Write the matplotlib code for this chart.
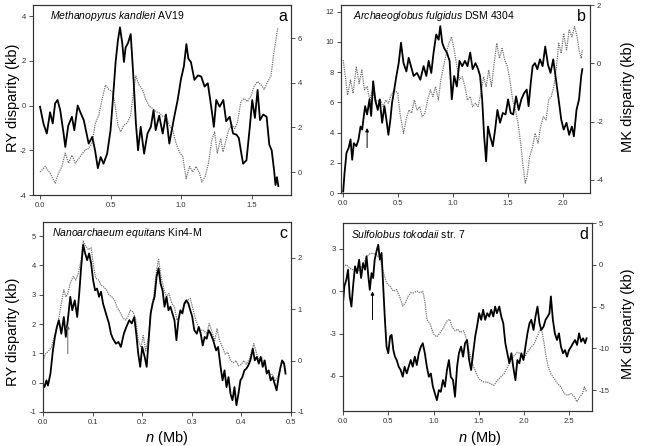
import matplotlib
matplotlib.use("Agg")
import matplotlib.pyplot as plt
from matplotlib.ticker import FormatStrFormatter

plt.rcParams["font.family"] = ["Liberation Sans", "DejaVu Sans"]
plt.rcParams["mathtext.fontset"] = "custom"
plt.rcParams["mathtext.rm"] = "Liberation Sans"
plt.rcParams["mathtext.it"] = "Liberation Sans:italic"
plt.rcParams["axes.unicode_minus"] = False

# panel a: Methanopyrus kandleri
a_ry_x = [0.0, 0.024, 0.048, 0.071, 0.09, 0.107, 0.124, 0.143, 0.167, 0.179,
          0.2, 0.226, 0.243, 0.267, 0.286, 0.31, 0.33, 0.345, 0.37, 0.39,
          0.41, 0.43, 0.45, 0.476, 0.5, 0.52, 0.536, 0.552, 0.567, 0.583,
          0.595, 0.607, 0.624, 0.643, 0.662, 0.68, 0.695, 0.714, 0.738, 0.762,
          0.786, 0.805, 0.82, 0.845, 0.87, 0.893, 0.917, 0.933, 0.952, 0.976,
          1.0, 1.02, 1.038, 1.052, 1.07, 1.095, 1.12, 1.143, 1.167, 1.19,
          1.214, 1.233, 1.25, 1.274, 1.3, 1.32, 1.345, 1.369, 1.393, 1.41,
          1.424, 1.44, 1.464, 1.488, 1.505, 1.524, 1.543, 1.56, 1.583, 1.607,
          1.626, 1.643, 1.66, 1.67, 1.68, 1.69]
a_ry = [-0.05, -0.8, -1.25, -0.3, -0.8, 0.1, 0.25, -0.2, -1.25, -1.85,
        -0.9, -0.5, -1.1, 0.0, -0.3, -0.65, -1.25, -1.7, -1.4, -2.0,
        -2.8, -2.3, -2.6, -2.15, -1.1, 0.55, 1.95, 2.9, 3.5, 2.8,
        1.95, 2.6, 2.8, 3.2, 1.3, -0.8, -2.0, -0.95, -2.15, -1.25,
        -0.95, -0.2, -1.1, -0.45, -1.25, -0.4, -1.7, -1.15, -0.5, 0.25,
        1.2, 1.75, 2.75, 2.1, 1.95, 1.15, 1.35, 1.3, 0.85, 1.0,
        -0.05, -0.95, 0.25, -0.05, 0.25, -0.7, -0.5, -1.25, -1.3, -1.45,
        -2.0, -2.6, -2.45, -0.95, 0.25, -0.55, 0.7, -0.65, -0.4, -0.5,
        -1.75, -2.0, -2.9, -3.55, -3.2, -3.6]
a_mk_x = [0.0, 0.036, 0.071, 0.107, 0.131, 0.155, 0.179, 0.202, 0.226, 0.25,
          0.286, 0.321, 0.345, 0.369, 0.393, 0.417, 0.44, 0.464, 0.488, 0.512,
          0.529, 0.552, 0.571, 0.595, 0.619, 0.643, 0.662, 0.679, 0.702, 0.726,
          0.75, 0.774, 0.798, 0.821, 0.845, 0.869, 0.893, 0.917, 0.94, 0.964,
          0.988, 1.012, 1.036, 1.06, 1.083, 1.107, 1.131, 1.148, 1.171, 1.195,
          1.219, 1.238, 1.257, 1.281, 1.298, 1.314, 1.338, 1.362, 1.381, 1.4,
          1.424, 1.448, 1.471, 1.495, 1.519, 1.543, 1.567, 1.59, 1.614, 1.638,
          1.655, 1.671, 1.686]
a_mk = [0.0, 0.25, -0.05, -0.5, -0.05, 0.25, 0.85, 0.4, 0.75, 0.4,
        0.7, 1.0, 1.05, 1.3, 2.2, 2.55, 3.25, 3.9, 3.7, 3.6,
        3.15, 2.1, 1.8, 2.1, 2.2, 2.55, 3.55, 4.3, 3.9, 3.7,
        3.25, 2.95, 2.85, 2.7, 2.65, 2.5, 2.5, 2.1, 1.9, 1.3,
        0.9, 0.7, -0.3, 0.25, 0.0, 0.25, -0.05, -0.45, -0.2, 0.4,
        1.45, 1.8, 0.85, 1.5, 0.9, 1.3, 1.9, 2.1, 1.95, 2.2,
        3.15, 3.3, 3.15, 3.4, 3.85, 4.05, 3.9, 3.7, 4.05, 4.3,
        5.2, 5.85, 6.45]

# panel b: Archaeoglobus fulgidus
b_ry_x = [0.0, 0.012, 0.03, 0.05, 0.067, 0.082, 0.097, 0.12, 0.14, 0.158,
          0.173, 0.188, 0.2, 0.218, 0.24, 0.255, 0.273, 0.294, 0.315, 0.333,
          0.355, 0.376, 0.394, 0.412, 0.43, 0.445, 0.46, 0.485, 0.506, 0.527,
          0.55, 0.576, 0.597, 0.618, 0.642, 0.673, 0.703, 0.733, 0.758, 0.779,
          0.803, 0.824, 0.848, 0.87, 0.885, 0.903, 0.92, 0.945, 0.97, 0.99,
          1.012, 1.036, 1.06, 1.085, 1.11, 1.133, 1.158, 1.18, 1.206, 1.23,
          1.248, 1.267, 1.285, 1.303, 1.32, 1.34, 1.364, 1.385, 1.406, 1.43,
          1.455, 1.48, 1.503, 1.527, 1.55, 1.576, 1.6, 1.624, 1.648, 1.673,
          1.69, 1.71, 1.727, 1.748, 1.77, 1.794, 1.818, 1.842, 1.867, 1.89,
          1.915, 1.94, 1.964, 1.988, 2.01, 2.036, 2.06, 2.085, 2.103, 2.127,
          2.15, 2.17, 2.18]
b_ry = [0.1, 1.3, 2.65, 3.0, 3.55, 2.2, 3.3, 3.1, 3.55, 4.4,
        4.2, 5.1, 5.75, 5.2, 6.2, 5.1, 7.4, 6.1, 5.5, 6.2,
        4.65, 5.75, 4.85, 3.85, 4.85, 5.95, 6.6, 7.75, 8.6, 9.95,
        8.6, 8.05, 8.95, 8.4, 7.75, 7.95, 7.5, 8.4, 7.75, 8.75,
        7.95, 9.3, 10.5, 10.15, 11.05, 9.95, 9.6, 9.3, 8.75, 6.2,
        7.75, 7.05, 8.75, 8.4, 8.75, 8.4, 9.3, 8.2, 8.6, 8.2,
        7.75, 6.2, 3.75, 2.1, 4.4, 3.75, 3.1, 4.2, 5.5, 4.65,
        5.3, 5.2, 6.2, 5.3, 5.2, 6.4, 5.5, 6.2, 6.6, 6.85,
        5.75, 7.3, 8.4, 8.6, 8.2, 8.85, 8.4, 9.7, 8.5, 7.95,
        8.85, 7.5, 6.2, 4.85, 4.2, 4.65, 3.85, 4.4, 3.75, 5.5,
        6.2, 7.75, 8.2]
b_mk_x = [0.0, 0.02, 0.04, 0.067, 0.09, 0.12, 0.145, 0.17, 0.194, 0.218,
          0.242, 0.267, 0.29, 0.315, 0.34, 0.364, 0.388, 0.412, 0.436, 0.467,
          0.497, 0.52, 0.55, 0.576, 0.6, 0.624, 0.648, 0.673, 0.697, 0.72,
          0.745, 0.77, 0.794, 0.818, 0.842, 0.867, 0.89, 0.915, 0.94, 0.964,
          0.988, 1.012, 1.036, 1.06, 1.085, 1.11, 1.133, 1.158, 1.18, 1.206,
          1.23, 1.255, 1.28, 1.303, 1.327, 1.352, 1.376, 1.4, 1.424, 1.448,
          1.473, 1.497, 1.52, 1.545, 1.57, 1.594, 1.618, 1.64, 1.66, 1.676,
          1.7, 1.727, 1.75, 1.776, 1.8, 1.824, 1.85, 1.873, 1.897, 1.92,
          1.945, 1.964, 1.988, 2.01, 2.036, 2.06, 2.085, 2.109, 2.133, 2.15,
          2.17, 2.18]
b_mk = [0.11, -0.46, -1.09, -0.57, -1.03, -0.11, -0.69, -0.23, -0.91, -0.8,
        -1.26, -0.91, -1.26, -1.31, -1.26, -1.49, -1.26, -1.37, -1.09, -0.91,
        -1.03, -1.77, -2.4, -1.89, -1.6, -1.71, -1.26, -1.6, -1.49, -1.83,
        -1.71, -1.26, -0.91, -1.14, -0.8, -1.26, -0.57, -0.11, 0.34, 0.69,
        0.91, 0.46, -0.11, -0.57, -0.46, -0.8, -1.26, -1.14, -1.49, -1.37,
        -1.49, -1.03, -0.46, -0.8, -0.23, -0.8, 0.0, 0.69, 0.17, 0.51,
        0.11, -0.11, -0.57, -1.26, -1.6, -2.06, -2.74, -3.54, -4.11, -3.89,
        -3.2, -2.86, -2.4, -2.74, -2.17, -1.83, -1.94, -1.26, -1.14, -0.8,
        -0.11, 0.69, 0.34, 1.03, 0.46, 1.14, 0.91, 1.26, 0.91, 0.46,
        0.17, 0.46]

# panel c: Nanoarchaeum equitans
c_ry_x = [0.0, 0.003, 0.007, 0.01, 0.015, 0.02, 0.024, 0.028, 0.032, 0.037,
          0.042, 0.046, 0.05, 0.055, 0.059, 0.064, 0.069, 0.073, 0.077, 0.081,
          0.085, 0.089, 0.093, 0.097, 0.101, 0.105, 0.109, 0.113, 0.117, 0.121,
          0.125, 0.129, 0.133, 0.137, 0.141, 0.147, 0.152, 0.157, 0.163, 0.168,
          0.174, 0.179, 0.184, 0.188, 0.192, 0.196, 0.2, 0.205, 0.209, 0.213,
          0.217, 0.221, 0.225, 0.229, 0.233, 0.237, 0.241, 0.245, 0.249, 0.253,
          0.257, 0.261, 0.265, 0.269, 0.273, 0.277, 0.281, 0.285, 0.289, 0.293,
          0.297, 0.301, 0.305, 0.31, 0.314, 0.318, 0.322, 0.326, 0.33, 0.334,
          0.338, 0.343, 0.349, 0.353, 0.358, 0.362, 0.366, 0.37, 0.374, 0.378,
          0.382, 0.386, 0.39, 0.394, 0.398, 0.402, 0.406, 0.41, 0.414, 0.418,
          0.423, 0.427, 0.431, 0.435, 0.439, 0.443, 0.447, 0.451, 0.455, 0.459,
          0.463, 0.467, 0.471, 0.475, 0.479, 0.482, 0.486, 0.489]
c_ry = [-0.03, -0.15, 0.08, -0.1, 0.31, 1.1, 1.56, 1.9, 2.13, 1.67,
        2.24, 1.56, 2.13, 2.93, 2.47, 2.81, 2.24, 3.04, 3.95, 4.7,
        4.41, 4.18, 4.41, 4.07, 3.5, 3.15, 3.21, 2.93, 3.1, 2.7,
        2.47, 2.24, 2.02, 1.67, 1.5, 1.33, 1.39, 1.22, 1.67, 1.9,
        2.13, 2.02, 2.24, 1.67, 0.99, 0.54, 1.22, 0.88, 0.54, 1.45,
        2.36, 2.7, 2.93, 3.61, 3.9, 3.38, 3.15, 2.59, 2.93, 2.47,
        2.59, 2.36, 2.13, 1.45, 2.13, 2.47, 2.36, 2.7, 2.81, 2.7,
        2.47, 2.24, 1.79, 1.67, 1.9, 1.67, 1.27, 1.56, 1.5, 1.79,
        1.67, 1.45, 1.1, 1.22, 0.54, 0.08, 0.42, -0.15, 0.19, -0.38,
        -0.6, -0.15, -0.77, -0.38, 0.08, 0.19, 0.42, 0.48, 0.59, 0.76,
        1.16, 0.76, 0.88, 0.65, 0.88, 0.54, 0.76, 0.31, 0.42, 0.08,
        0.19, -0.03, -0.26, 0.19, 0.54, 0.76, 0.65, 0.31]
c_mk_x = [0.0, 0.005, 0.011, 0.017, 0.024, 0.03, 0.037, 0.042, 0.046, 0.05,
          0.055, 0.061, 0.066, 0.071, 0.077, 0.081, 0.086, 0.092, 0.097, 0.101,
          0.106, 0.112, 0.117, 0.122, 0.128, 0.133, 0.139, 0.144, 0.149, 0.155,
          0.16, 0.166, 0.171, 0.176, 0.182, 0.187, 0.192, 0.198, 0.202, 0.207,
          0.213, 0.218, 0.223, 0.229, 0.233, 0.238, 0.244, 0.249, 0.254, 0.26,
          0.265, 0.27, 0.276, 0.281, 0.287, 0.292, 0.297, 0.303, 0.308, 0.314,
          0.319, 0.324, 0.33, 0.335, 0.34, 0.346, 0.351, 0.356, 0.362, 0.367,
          0.373, 0.378, 0.384, 0.389, 0.394, 0.4, 0.405, 0.41, 0.416, 0.421,
          0.425, 0.431, 0.436, 0.441, 0.447, 0.452, 0.458, 0.463, 0.468, 0.474,
          0.479, 0.485, 0.489]
c_mk = [0.0, 0.13, 0.19, 0.26, 0.52, 0.72, 1.11, 1.38, 1.24, 1.31,
        1.51, 1.64, 1.57, 1.7, 1.97, 2.33, 2.23, 2.16, 2.2, 1.9,
        1.61, 1.57, 1.47, 1.44, 1.38, 1.28, 1.24, 1.18, 1.05, 0.95,
        0.85, 0.79, 0.85, 0.98, 0.95, 0.79, 0.39, 0.26, 0.49, 0.19,
        0.46, 0.98, 1.24, 1.77, 1.97, 1.64, 1.38, 1.24, 1.31, 1.11,
        1.05, 0.79, 0.92, 0.98, 1.11, 1.18, 1.21, 0.98, 0.79, 0.65,
        0.59, 0.59, 0.52, 0.72, 0.59, 0.39, 0.62, 0.39, 0.26, 0.13,
        0.16, 0.0, -0.04, 0.0, -0.1, -0.07, 0.0, -0.07, 0.03, 0.19,
        0.33, 0.13, 0.0, 0.06, -0.07, -0.2, -0.27, -0.27, -0.4, -0.3,
        -0.13, 0.0, -0.2]

# panel d: Sulfolobus tokodaii
d_ry_x = [0.0, 0.015, 0.037, 0.056, 0.074, 0.093, 0.111, 0.133, 0.156, 0.178,
          0.2, 0.222, 0.244, 0.26, 0.28, 0.296, 0.315, 0.333, 0.35, 0.37,
          0.389, 0.407, 0.426, 0.444, 0.463, 0.481, 0.5, 0.52, 0.537, 0.556,
          0.574, 0.593, 0.615, 0.637, 0.66, 0.68, 0.704, 0.726, 0.748, 0.77,
          0.793, 0.815, 0.837, 0.86, 0.881, 0.904, 0.926, 0.948, 0.97, 0.993,
          1.015, 1.037, 1.059, 1.08, 1.104, 1.126, 1.148, 1.17, 1.19, 1.215,
          1.237, 1.26, 1.28, 1.304, 1.326, 1.348, 1.37, 1.393, 1.415, 1.437,
          1.46, 1.48, 1.504, 1.526, 1.548, 1.57, 1.593, 1.615, 1.637, 1.66,
          1.68, 1.7, 1.726, 1.748, 1.77, 1.793, 1.815, 1.837, 1.86, 1.88,
          1.904, 1.926, 1.948, 1.97, 1.993, 2.015, 2.037, 2.06, 2.08, 2.104,
          2.126, 2.148, 2.17, 2.19, 2.215, 2.237, 2.26, 2.28, 2.296, 2.318,
          2.34, 2.363, 2.385, 2.407, 2.43, 2.452, 2.474, 2.496, 2.52, 2.54,
          2.563, 2.585, 2.607, 2.63, 2.652, 2.674, 2.69]
d_ry = [-0.84, 0.35, 0.82, 1.53, -0.36, -1.08, 0.35, 1.77, 1.29, 2.24,
        0.94, 2.0, 1.53, 2.48, 1.06, 0.11, 1.29, 0.94, 2.24, 2.83,
        3.3, 2.24, 2.72, 0.35, -2.02, -3.92, -4.39, -3.2, -3.09, -4.16,
        -4.63, -4.87, -5.34, -5.58, -6.05, -5.34, -5.82, -5.34, -4.87, -5.34,
        -4.63, -5.22, -4.39, -3.92, -3.68, -4.39, -5.34, -6.05, -5.82, -6.76,
        -7.24, -7.71, -7.0, -7.12, -6.29, -6.76, -5.58, -4.87, -6.05, -6.29,
        -7.47, -5.34, -4.39, -3.92, -4.63, -3.68, -3.45, -4.87, -5.58, -4.39,
        -3.2, -2.5, -1.55, -2.02, -1.31, -2.02, -1.55, -1.79, -1.31, -1.79,
        -1.08, -1.55, -1.08, -1.79, -2.26, -3.68, -4.39, -5.1, -4.39, -5.34,
        -6.29, -4.87, -5.1, -4.39, -4.87, -3.92, -2.98, -2.26, -2.02, -2.74,
        -1.79, -1.08, -2.26, -2.74, -2.5, -2.02, -1.79, -1.55, -0.36, -2.02,
        -2.98, -3.45, -2.98, -3.92, -4.39, -4.16, -4.63, -4.16, -3.92, -3.68,
        -3.45, -3.8, -2.98, -3.57, -3.33, -3.68, -3.33]
d_mk_x = [0.0, 0.037, 0.074, 0.111, 0.148, 0.185, 0.222, 0.26, 0.296, 0.333,
          0.37, 0.407, 0.444, 0.481, 0.52, 0.556, 0.593, 0.63, 0.66, 0.689,
          0.72, 0.748, 0.778, 0.815, 0.852, 0.881, 0.904, 0.926, 0.963, 1.0,
          1.037, 1.074, 1.111, 1.148, 1.178, 1.207, 1.237, 1.267, 1.296, 1.333,
          1.37, 1.4, 1.43, 1.46, 1.49, 1.52, 1.556, 1.593, 1.63, 1.667,
          1.704, 1.74, 1.778, 1.815, 1.852, 1.889, 1.926, 1.963, 2.0, 2.037,
          2.074, 2.11, 2.148, 2.178, 2.2, 2.222, 2.244, 2.267, 2.296, 2.333,
          2.37, 2.407, 2.444, 2.48, 2.52, 2.556, 2.585, 2.615, 2.644, 2.667,
          2.69]
d_mk = [-0.2, 0.0, -0.4, -0.6, -0.8, -0.6, 0.0, 1.0, 1.3, 1.38,
        1.19, 0.8, -0.8, -2.17, -2.57, -3.16, -2.96, -3.95, -4.94, -4.55,
        -3.75, -3.36, -3.36, -3.16, -3.36, -3.16, -4.35, -6.52, -7.11, -8.3,
        -8.62, -8.1, -7.51, -6.72, -6.52, -7.51, -7.9, -7.71, -8.1, -7.9,
        -9.09, -10.67, -11.86, -12.65, -13.44, -13.83, -14.03, -14.03, -14.23, -14.43,
        -13.83, -13.44, -13.04, -12.25, -11.46, -10.87, -10.47, -10.67, -11.07, -10.47,
        -9.88, -9.49, -8.5, -7.71, -8.1, -9.49, -11.07, -12.25, -13.04, -13.64,
        -14.23, -14.62, -15.42, -15.61, -15.42, -15.81, -16.4, -15.81, -15.42, -14.62,
        -15.22]

# species names, strains, panel letters
species = ["Methanopyrus kandleri", "Archaeoglobus fulgidus",
           "Nanoarchaeum equitans", "Sulfolobus tokodaii"]
strains = ["AV19", "DSM 4304", "Kin4-M", "str. 7"]
letters = ["a", "b", "c", "d"]

# arrows (x, y start, y end) on the RY axis of panels b, c, d
arrow_b = (0.218, 3.0, 4.3)
arrow_c = (0.05, 0.99, 1.96)
arrow_d = (0.326, -2.0, 0.0)

fig = plt.figure(figsize=(6.48, 4.46), dpi=100)

rects = [
    [33 / 648, 1 - 195 / 446, 258 / 648, 190 / 446],
    [341 / 648, 1 - 193 / 446, 249 / 648, 188 / 446],
    [43 / 648, 1 - 412 / 446, 248 / 648, 190 / 446],
    [343 / 648, 1 - 411 / 446, 249 / 648, 188 / 446],
]
xlims = [(-0.05, 1.78), (-0.02, 2.25), (0.0, 0.5), (0.0, 2.75)]
ylims_l = [(-4, 4.5), (0, 12.45), (-1, 5.48), (-8.48, 4.84)]
ylims_r = [(-1.03, 7.48), (-4.45, 2.0), (-1.0, 2.7), (-17.5, 5.0)]
xticks = [[0, 0.5, 1.0, 1.5], [0, 0.5, 1.0, 1.5, 2.0],
          [0, 0.1, 0.2, 0.3, 0.4, 0.5], [0, 0.5, 1.0, 1.5, 2.0, 2.5]]
yticks_l = [[-4, -2, 0, 2, 4], [0, 2, 4, 6, 8, 10, 12],
            [-1, 0, 1, 2, 3, 4, 5], [-6, -3, 0, 3]]
yticks_r = [[0, 2, 4, 6], [-4, -2, 0, 2], [-1, 0, 1, 2], [-15, -10, -5, 0, 5]]
title_x = [0.066, 0.048, 0.036, 0.032]

ry_x = [a_ry_x, b_ry_x, c_ry_x, d_ry_x]
ry = [a_ry, b_ry, c_ry, d_ry]
mk_x = [a_mk_x, b_mk_x, c_mk_x, d_mk_x]
mk = [a_mk, b_mk, c_mk, d_mk]

axes = []
for i in range(4):
    ax = fig.add_axes(rects[i])
    ax2 = ax.twinx()
    ax2.plot(mk_x[i], mk[i], color="#737373", linewidth=0.9,
             linestyle=(0, (1, 0.8)))
    ax.plot(ry_x[i], ry[i], color="black", linewidth=1.3)
    ax.set_zorder(ax2.get_zorder() + 1)
    ax.patch.set_visible(False)

    ax.set_xlim(*xlims[i])
    ax.set_ylim(*ylims_l[i])
    ax2.set_ylim(*ylims_r[i])
    ax.set_xticks(xticks[i])
    ax.set_yticks(yticks_l[i])
    ax2.set_yticks(yticks_r[i])
    ax.xaxis.set_major_formatter(FormatStrFormatter("%.1f"))

    for a in (ax, ax2):
        a.tick_params(labelsize=5.5, length=3, width=0.6,
                      colors="#333333", pad=2)
        for s in a.spines.values():
            s.set_linewidth(0.8)
            s.set_color("#333333")

    name = species[i].replace(" ", r"\ ")
    ax.text(title_x[i], 0.94, r"$\it{" + name + "}$ " + strains[i],
            transform=ax.transAxes, fontsize=7.5, va="center", ha="left")
    ax.text(0.985, 0.94, letters[i], transform=ax.transAxes,
            fontsize=11.5, va="center", ha="right")
    axes.append(ax)

for ax, (ax_x, y0, y1), col in [(axes[1], arrow_b, "black"),
                                 (axes[2], arrow_c, "#666666"),
                                 (axes[3], arrow_d, "black")]:
    ax.annotate("", xy=(ax_x, y1), xytext=(ax_x, y0),
                arrowprops=dict(arrowstyle="-|>", color=col, lw=0.7,
                                mutation_scale=5, shrinkA=0, shrinkB=0))

fig.text(0.02, 0.78, "RY disparity (kb)", rotation=90,
         fontsize=10.5, va="center", ha="center")
fig.text(0.02, 0.256, "RY disparity (kb)", rotation=90,
         fontsize=10.5, va="center", ha="center")
fig.text(0.969, 0.783, "MK disparity (kb)", rotation=90,
         fontsize=10.5, va="center", ha="center")
fig.text(0.969, 0.275, "MK disparity (kb)", rotation=90,
         fontsize=10.5, va="center", ha="center")
fig.text(0.257, 0.018, r"$\it{n}$ (Mb)", fontsize=10.5,
         va="center", ha="center")
fig.text(0.741, 0.018, r"$\it{n}$ (Mb)", fontsize=10.5,
         va="center", ha="center")

fig.savefig("out.png", dpi=100)
